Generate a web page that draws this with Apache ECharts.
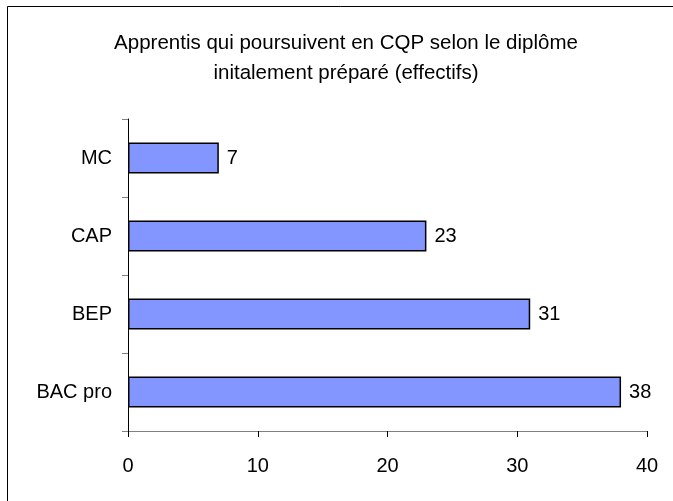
<!DOCTYPE html>
<html>
<head>
<meta charset="utf-8">
<script src="https://cdn.jsdelivr.net/npm/echarts@6/dist/echarts.min.js"></script>
<style>
  html, body { margin: 0; padding: 0; background: #fff; }
  #chart { width: 673px; height: 501px; }
</style>
</head>
<body>
<div id="chart"></div>
<script>
(function () {
    // données
    var categories = ["BAC pro", "BEP", "CAP", "MC"];
    var effectifs = [38, 31, 23, 7];
    var xTicks = [0, 10, 20, 30, 40];

    var font = "Liberation Sans, Arial, sans-serif";
    var myChart = echarts.init(document.getElementById("chart"));

    var option = {
        animation: false,
        backgroundColor: "#fff",
        title: {
            text: "Apprentis qui poursuivent en CQP selon le diplôme\ninitalement préparé (effectifs)",
            left: 341,
            top: 23,
            textAlign: "center",
            textStyle: {
                fontFamily: font,
                fontSize: 20.5,
                fontWeight: "normal",
                color: "#000",
                lineHeight: 30
            }
        },
        graphic: [{
            type: "rect",
            shape: { x: 7.5, y: 6.5, width: 700, height: 600 },
            style: { fill: "none", stroke: "#000", lineWidth: 1 },
            silent: true
        }],
        grid: { left: 128, right: 26, top: 119, bottom: 70 },
        xAxis: {
            type: "value",
            min: xTicks[0],
            max: xTicks[xTicks.length - 1],
            interval: 10,
            splitLine: { show: false },
            axisLine: { show: true, lineStyle: { color: "#808080", width: 1 } },
            axisTick: { show: true, length: 6, lineStyle: { color: "#000" } },
            axisLabel: {
                fontFamily: font,
                fontSize: 20,
                color: "#000",
                margin: 25
            }
        },
        yAxis: {
            type: "category",
            data: categories,
            axisLine: { show: true, lineStyle: { color: "#000", width: 1 } },
            axisTick: { show: true, length: 6, lineStyle: { color: "#808080" } },
            axisLabel: {
                fontFamily: font,
                fontSize: 20,
                color: "#000",
                margin: 16
            }
        },
        series: [{
            type: "bar",
            data: effectifs,
            barWidth: 31,
            itemStyle: {
                color: "#8396ff",
                borderColor: "#000",
                borderWidth: 1.5
            },
            label: {
                show: true,
                position: "right",
                distance: 8,
                fontFamily: font,
                fontSize: 20,
                color: "#000"
            }
        }]
    };
    myChart.setOption(option);
})();
</script>
</body>
</html>
